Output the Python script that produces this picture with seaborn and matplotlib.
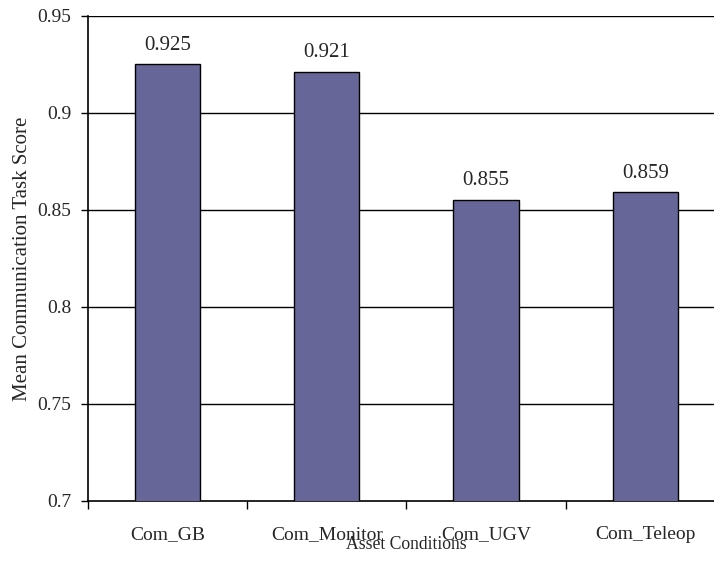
import matplotlib
matplotlib.use("Agg")
import matplotlib.pyplot as plt
import seaborn as sns
import pandas as pd

# Data
conditions = ["Com_GB", "Com_Monitor", "Com_UGV", "Com_Teleop"]
scores = [0.925, 0.921, 0.855, 0.859]
y_ticks = [0.7, 0.75, 0.8, 0.85, 0.9, 0.95]
y_tick_labels = ["0.7", "0.75", "0.8", "0.85", "0.9", "0.95"]

sns.set_theme(style="white")
plt.rcParams["font.family"] = ["Liberation Serif", "DejaVu Serif"]

df = pd.DataFrame({"Condition": conditions, "Score": scores})

fig = plt.figure(figsize=(7.14, 5.61), dpi=100)
ax = fig.add_axes([0.1232, 0.107, 0.892, 0.865])

sns.barplot(data=df, x="Condition", y="Score", color="#666699", saturation=1,
            width=0.41, edgecolor="black", linewidth=1.0, ax=ax, zorder=3)

ax.set_ylim(0.7, 0.95)
ax.set_xlim(-0.5, 3.5)
ax.set_yticks(y_ticks)
ax.set_yticklabels(y_tick_labels)

# horizontal gridlines
for t in y_ticks[1:]:
    ax.axhline(t, color="black", linewidth=1.0, zorder=1)

for side in ["top", "right"]:
    ax.spines[side].set_visible(False)
for side in ["left", "bottom"]:
    ax.spines[side].set_color("black")
    ax.spines[side].set_linewidth(1.2)

ax.tick_params(axis="y", which="major", direction="out", length=5, width=1,
               color="black", labelsize=14, pad=7, left=True)
ax.tick_params(axis="x", which="major", length=0, labelsize=14, pad=18)
ax.set_xticks([-0.5, 0.5, 1.5, 2.5, 3.5], minor=True)
ax.tick_params(axis="x", which="minor", direction="out", length=6, width=1,
               color="black", bottom=True)

for i, v in enumerate(scores):
    ax.annotate(f"{v:.3f}", xy=(i, v), xytext=(0, 7), textcoords="offset points",
                ha="center", va="bottom", fontsize=15)

ax.set_ylabel("Mean Communication Task Score", fontsize=15)
ax.yaxis.set_label_coords(-0.088, 0.5)
ax.set_xlabel("Asset Conditions", fontsize=12.7)
ax.xaxis.set_label_coords(0.5, -0.073)
ax.set_facecolor("white")

fig.savefig("out.png", dpi=100, facecolor="white")
